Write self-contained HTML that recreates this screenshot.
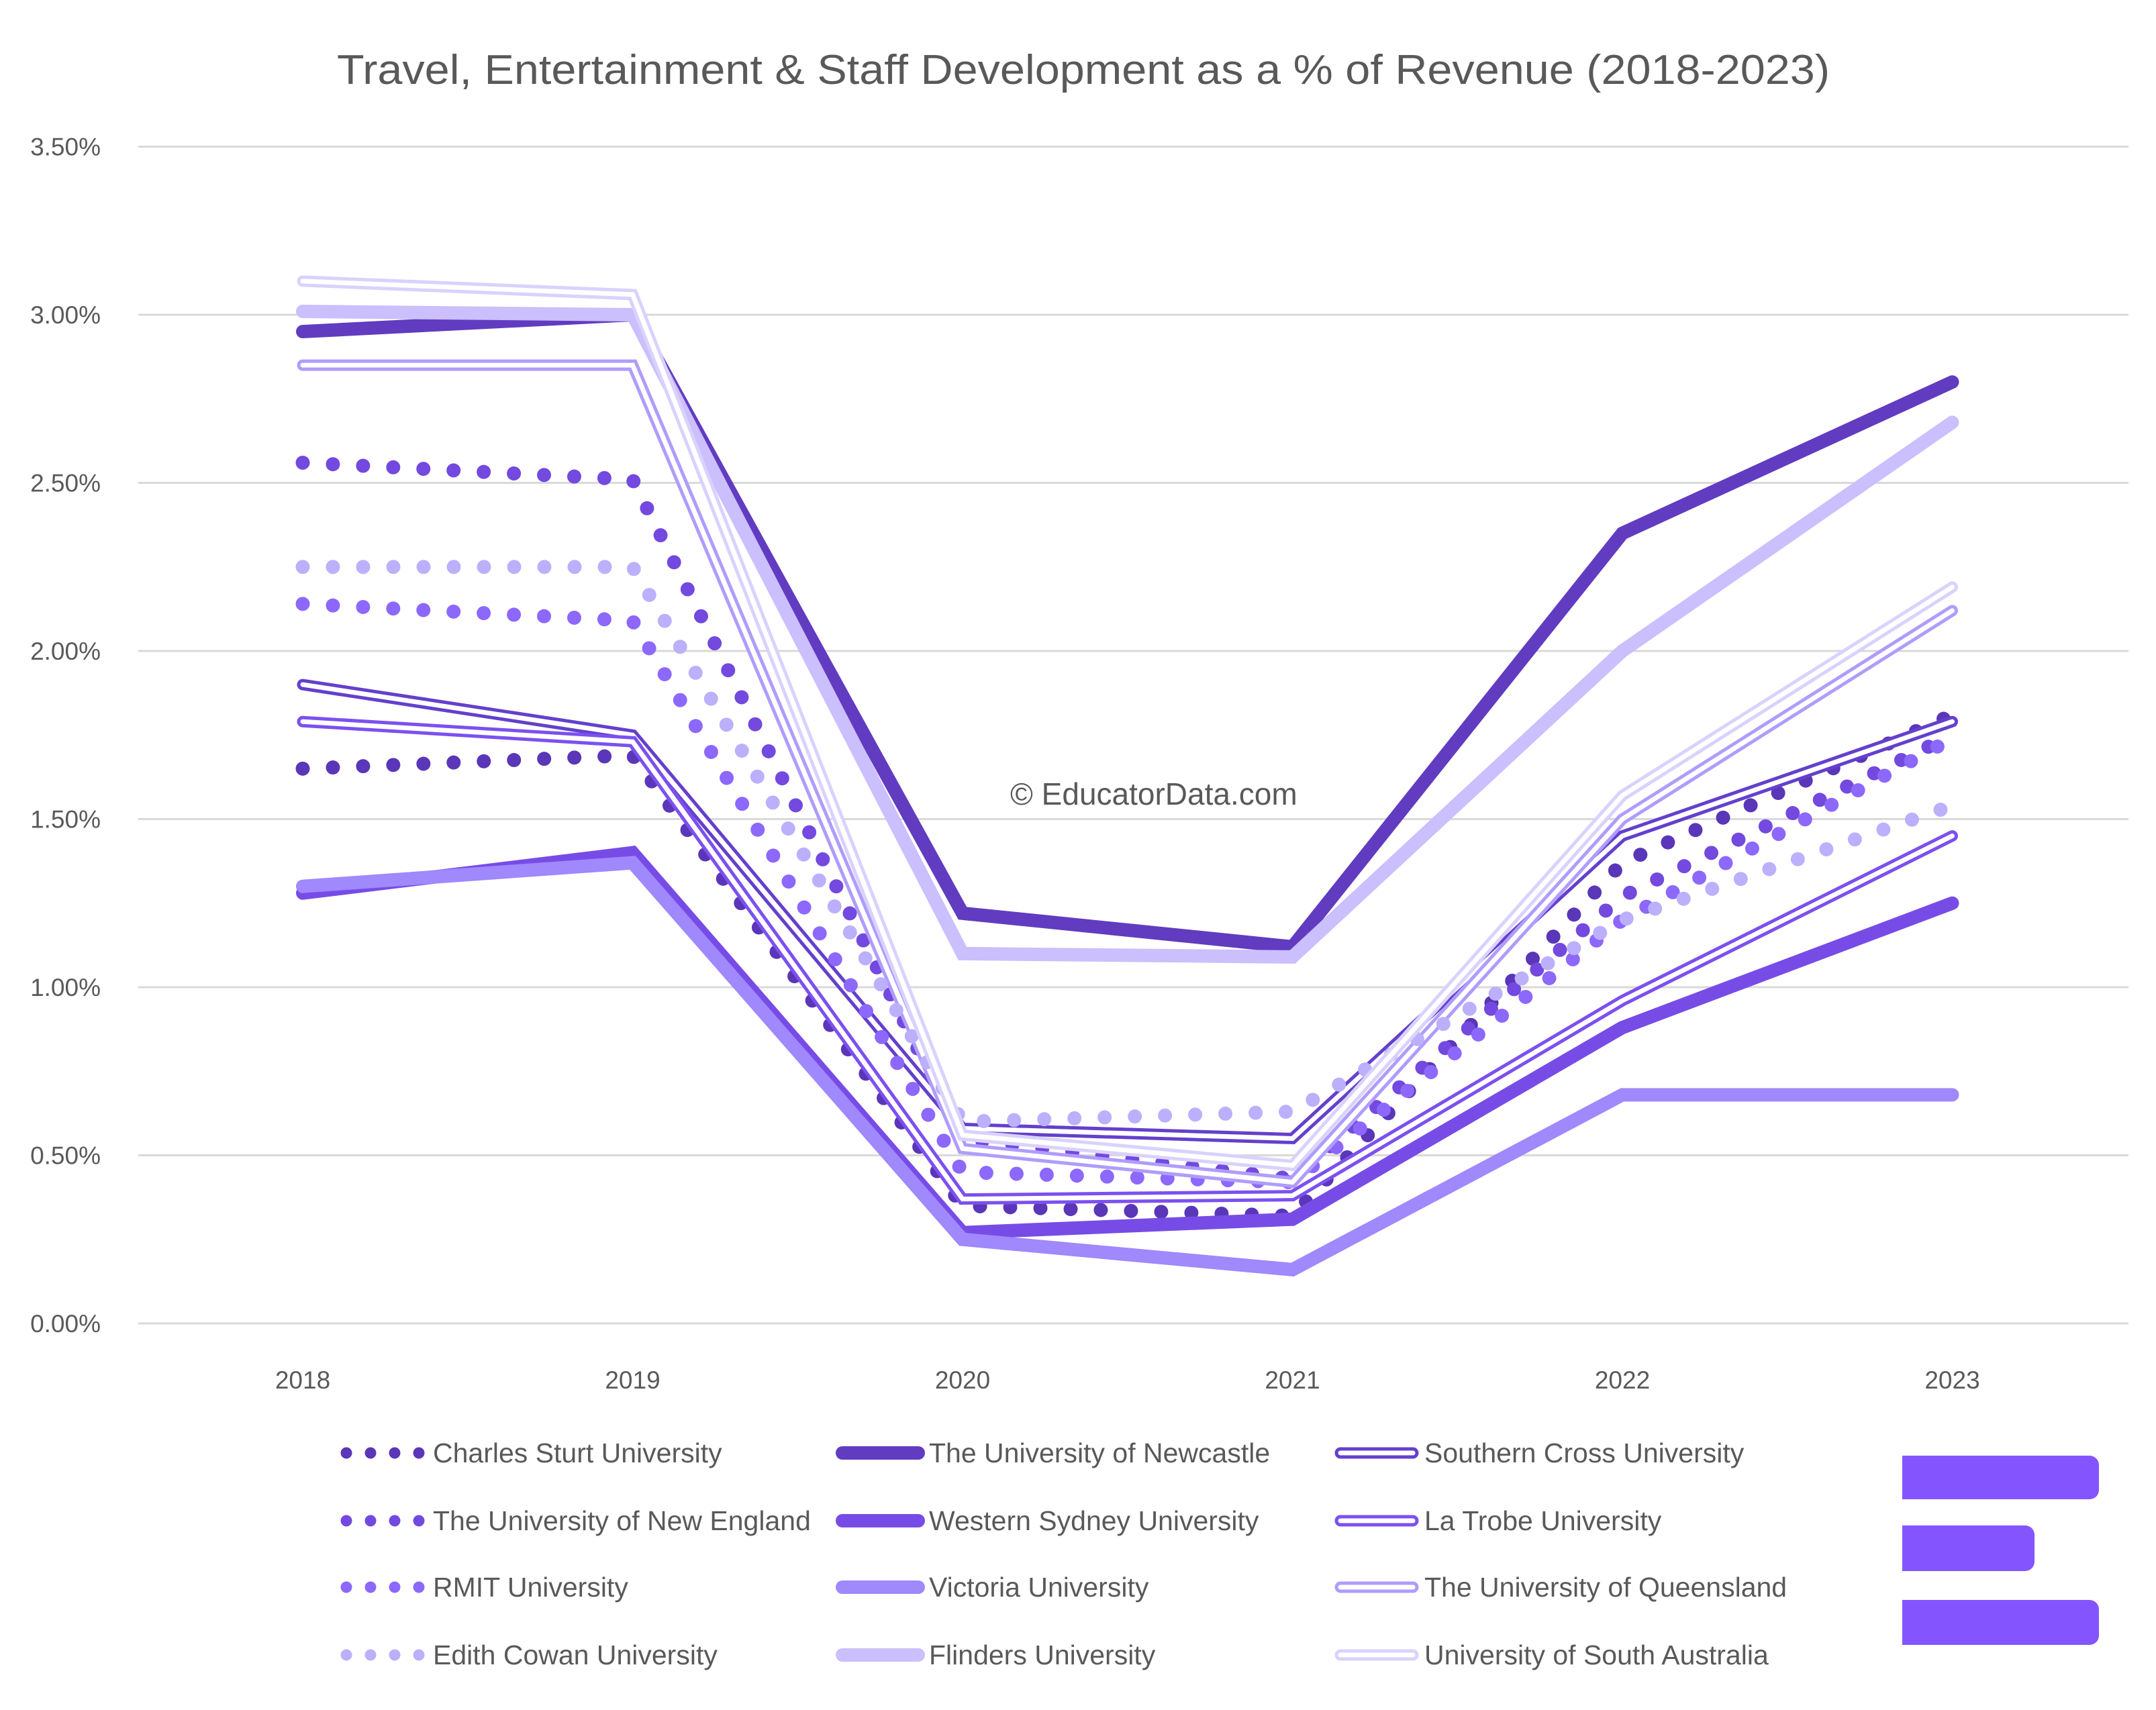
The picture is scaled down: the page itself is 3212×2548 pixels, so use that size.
<!DOCTYPE html>
<html><head><meta charset="utf-8"><style>
html,body{margin:0;padding:0;background:#fff;}
svg{display:block;font-family:"Liberation Sans",sans-serif;}
</style></head><body>
<svg id="chart" width="3212" height="2548" viewBox="0 0 3212 2548">
<text x="1614" y="125" text-anchor="middle" font-size="62" fill="#595959" textLength="2224" lengthAdjust="spacingAndGlyphs">Travel, Entertainment &amp; Staff Development as a % of Revenue (2018-2023)</text>
<g id="grid"></g>
<g id="xlabels"></g>
<text x="1505" y="1199" font-size="46" fill="#595959">© EducatorData.com</text>
<g id="series"></g>
<g id="legend"></g>
<g>
<path d="M2834 2169 H3113 a14 14 0 0 1 14 14 V2220 a14 14 0 0 1 -14 14 H2834 Z" fill="#8455ff"/>
<path d="M2834 2273 H3017 a14 14 0 0 1 14 14 V2327 a14 14 0 0 1 -14 14 H2834 Z" fill="#8455ff"/>
<path d="M2834 2384 H3113 a14 14 0 0 1 14 14 V2437 a14 14 0 0 1 -14 14 H2834 Z" fill="#8455ff"/>
</g>
</svg>
<script>
const years = ["2018","2019","2020","2021","2022","2023"];
const yTicks = [0,0.5,1,1.5,2,2.5,3,3.5];
const names = ["Charles Sturt University","The University of Newcastle","Southern Cross University","The University of New England","Western Sydney University","La Trobe University","RMIT University","Victoria University","The University of Queensland","Edith Cowan University","Flinders University","University of South Australia"];
const styles = ["dot","thick","double","dot","thick","double","dot","thick","double","dot","thick","double"];
const colors = ["#5a36b8","#613cc0","#6440cc","#7349df","#774ce6","#7c50f0","#8d68fd","#a088fd","#b09cfd","#bcb0fd","#cbbffd","#dad2fd"];
const charlesSturt = [1.65,1.69,0.35,0.32,1.37,1.81];
const newcastle = [2.95,3.00,1.22,1.12,2.35,2.80];
const southernCross = [1.90,1.75,0.58,0.55,1.45,1.79];
const newEngland = [2.56,2.51,0.55,0.43,1.27,1.75];
const westernSydney = [1.28,1.40,0.27,0.31,0.88,1.25];
const laTrobe = [1.79,1.73,0.37,0.38,0.96,1.45];
const rmit = [2.14,2.09,0.45,0.42,1.20,1.74];
const victoria = [1.30,1.37,0.25,0.16,0.68,0.68];
const queensland = [2.85,2.85,0.52,0.42,1.50,2.12];
const edithCowan = [2.25,2.25,0.60,0.63,1.20,1.54];
const flinders = [3.01,3.00,1.10,1.09,2.00,2.68];
const uniSA = [3.10,3.06,0.56,0.47,1.57,2.19];
const seriesData = [charlesSturt,newcastle,southernCross,newEngland,westernSydney,laTrobe,rmit,victoria,queensland,edithCowan,flinders,uniSA];

const NS="http://www.w3.org/2000/svg";
const x0=451, dx=491.5, yBase=1972, yPer=501;
const X=i=>x0+i*dx;
const Y=v=>yBase-v*yPer;
function mk(tag,attrs,parent){const e=document.createElementNS(NS,tag);for(const k in attrs)e.setAttribute(k,attrs[k]);parent.appendChild(e);return e;}

const grid=document.getElementById('grid');
yTicks.forEach(t=>{
  const l=mk('line',{x1:206,x2:3171,y1:Y(t),y2:Y(t),stroke:'#d9d9d9','stroke-width':3},grid);
  
  
  const tx=mk('text',{x:150,y:Y(t)+13,'text-anchor':'end','font-size':37,fill:'#595959'},grid);
  tx.textContent=t.toFixed(2)+'%';
  
  
});
const xl=document.getElementById('xlabels');
years.forEach((yr,i)=>{
  const tx=mk('text',{x:X(i),y:2069,'text-anchor':'middle','font-size':37,fill:'#595959'},xl);
  tx.textContent=yr;
  
  
});

function drawLine(parent,pts,style,color){
  const g=mk('g',{},parent);
  if(style==='dot'){
    mk('polyline',{points:pts,fill:'none',stroke:color,'stroke-width':21,'stroke-linecap':'round','stroke-linejoin':'round','stroke-dasharray':'0 45'},g);
  }else if(style==='thick'){
    mk('polyline',{points:pts,fill:'none',stroke:color,'stroke-width':20,'stroke-linecap':'round','stroke-linejoin':'miter'},g);
  }else{
    mk('polyline',{points:pts,fill:'none',stroke:color,'stroke-width':17,'stroke-linecap':'round','stroke-linejoin':'miter'},g);
    mk('polyline',{points:pts,fill:'none',stroke:'#fff','stroke-width':7,'stroke-linecap':'round','stroke-linejoin':'miter'},g);
  }
  return g;
}
const sg=document.getElementById('series');
seriesData.forEach((d,s)=>{
  const pts=d.map((v,i)=>X(i)+','+Y(v)).join(' ');
  const g=drawLine(sg,pts,styles[s],colors[s]);
  
  
});

const lg=document.getElementById('legend');
const colX=[[516,625,645],[1255,1368,1384],[1997,2105,2122]];
const rowY=[2165,2266,2365,2466];
names.forEach((n,i)=>{
  const c=i%3, r=Math.floor(i/3);
  const y=rowY[r];
  const g=mk('g',{},lg);
  
  
  const [a,b,t]=colX[c];
  if(styles[i]==='dot'){
    mk('line',{x1:a,x2:b+2,y1:y,y2:y,stroke:colors[i],'stroke-width':17,'stroke-linecap':'round','stroke-dasharray':'0 36'},g);
  }else drawLine(g,a+','+y+' '+b+','+y,styles[i],colors[i]);
  const tx=mk('text',{x:t,y:y+14,'font-size':41,fill:'#595959'},g);
  tx.textContent=n;
});
</script>
</body></html>
